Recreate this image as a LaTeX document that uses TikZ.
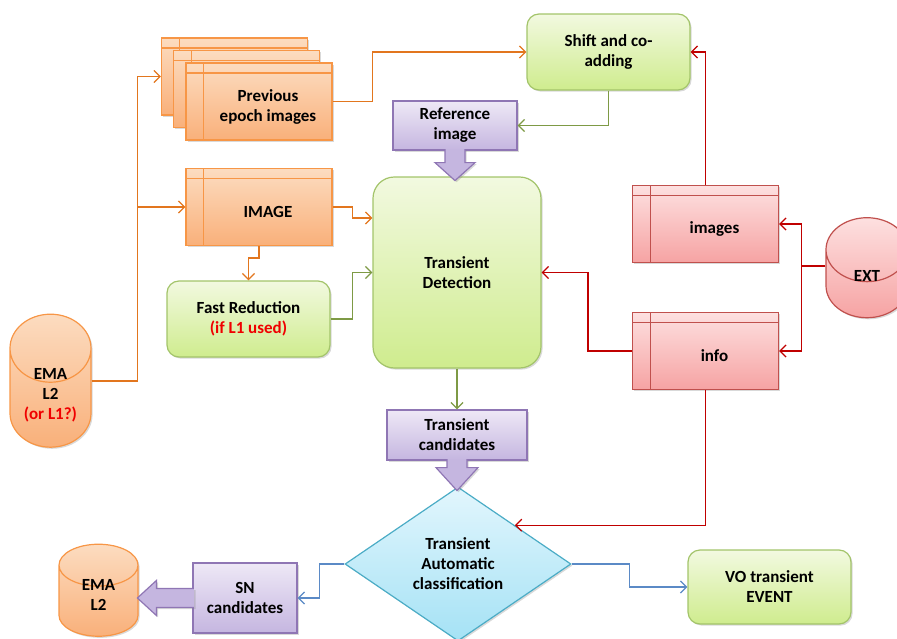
\documentclass[tikz,border=0pt]{standalone}
\usepackage{fontspec}
\setmainfont{Carlito}
\usetikzlibrary{shapes.geometric,shadows,calc,arrows.meta}

\definecolor{ortop}{HTML}{FCDCC0}
\definecolor{orbot}{HTML}{F9B07A}
\definecolor{orline}{HTML}{F79646}
\definecolor{orarrow}{HTML}{E2761E}
\definecolor{grtop}{HTML}{F2F9E0}
\definecolor{grbot}{HTML}{CFEC8E}
\definecolor{grline}{HTML}{A3C46A}
\definecolor{grarrow}{HTML}{7E9A45}
\definecolor{putop}{HTML}{EEE8F6}
\definecolor{pubot}{HTML}{C5B6E0}
\definecolor{puline}{HTML}{8F76B4}
\definecolor{rdtop}{HTML}{FDE0E0}
\definecolor{rdbot}{HTML}{F6A3A3}
\definecolor{rdline}{HTML}{C0504D}
\definecolor{rdarrow}{HTML}{C00000}
\definecolor{bltop}{HTML}{E2F6FD}
\definecolor{blbot}{HTML}{A5E2F5}
\definecolor{blline}{HTML}{4BACC6}
\definecolor{blarrow}{HTML}{5B8AC6}
\definecolor{redtxt}{HTML}{F00000}

\tikzset{
  lbl/.style={font=\bfseries\fontsize{12.75}{15}\selectfont, align=center, inner sep=0pt},
  shade/.style={drop shadow={opacity=0.3,shadow xshift=1.2pt,shadow yshift=-1.2pt}},
  box/.style={draw=#1line, line width=0.9pt, top color=#1top, bottom color=#1bot, shade},
  store/.style={box=#1, minimum width=109.5pt, minimum height=57.75pt,
    path picture={
      \draw[#1line,line width=0.8pt] ($(path picture bounding box.north west)!0.123!(path picture bounding box.north east)$) -- ($(path picture bounding box.south west)!0.123!(path picture bounding box.south east)$);
      \draw[#1line,line width=0.8pt] ($(path picture bounding box.north west)!0.13!(path picture bounding box.south west)$) -- ($(path picture bounding box.north east)!0.13!(path picture bounding box.south east)$);
    }},
  rbox/.style={box=gr, rounded corners=9pt, minimum width=122.25pt, minimum height=57pt},
  db/.style={box=#1, cylinder, shape border rotate=90, inner sep=0pt},
  link/.style={draw=#1arrow, line width=1pt, -{Straight Barb[length=4.5pt,width=9pt]}},
}

\begin{document}
\begin{tikzpicture}[x=0.75pt,y=0.75pt,yscale=-1,xscale=1]
\useasboundingbox (0,0) rectangle (897,639);

% Boxes
\node[store=or] (prev3) at (234.5,76.5) {};
\node[store=or] (prev2) at (246.5,89) {};
\node[store=or] (prev1) at (259,101.5) {};
\node[lbl] (prev1-t) at ([shift={(9,5.5)}]prev1.center) {Previous\\epoch images};

\node[rbox, lbl] (shift) at (608.5,52) {Shift and co-\\adding};
\node[box=pu, lbl, minimum width=93pt, minimum height=36.75pt] (ref) at (455,125.5) {Reference\\image};

\node[store=or] (img) at (259,207) {};
\node[lbl] (img-t) at ([shift={(9,5)}]img.center) {IMAGE};
\node[rbox, lbl] (fast) at (248.5,319) {Fast Reduction\\\textcolor{redtxt}{(if L1 used)}};

\node[box=gr, lbl, rounded corners=16pt, minimum width=126pt, minimum height=143.25pt] (td) at (457,272.5) {Transient\\Detection};

\node[store=rd] (images) at (705.5,224) {};
\node[lbl] (images-t) at ([shift={(9,5)}]images.center) {images};
\node[store=rd] (info) at (705.5,351) {};
\node[lbl] (info-t) at ([shift={(9,5)}]info.center) {info};

% Data stores
\node[db=rd, aspect=0.78, minimum height=75pt] (ext) at (867,284) {\rule{61.5pt}{0pt}};
\node[lbl] (ext-t) at ([shift={(0,-8)}]ext.center) {EXT};
\node[db=or, aspect=0.84, minimum height=99.75pt] (ema) at (50.5,398) {\rule{60.75pt}{0pt}};
\node[lbl] (ema-t) at ([shift={(0,-3)}]ema.center) {EMA\\L2\\\textcolor{redtxt}{(or L1?)}};

\node[box=pu, lbl, minimum width=105pt, minimum height=37.5pt] (cand) at (457,435) {Transient\\candidates};
\node[box=bl, lbl, diamond, aspect=1.47, minimum width=169.5pt, minimum height=115.5pt] (dia) at (458,564) {Transient\\Automatic\\classification};
\node[box=pu, lbl, minimum width=78pt, minimum height=52.5pt] (sn) at (245,598) {SN\\candidates};
\node[db=or, aspect=0.53, minimum height=69pt] (ema2) at (98.5,601) {\rule{59.25pt}{0pt}};
\node[lbl] (ema2-t) at ([shift={(0,-6)}]ema2.center) {EMA\\L2};
\node[rbox, lbl, minimum height=55.5pt] (vo) at (769.5,587) {VO transient\\EVENT};

% Block arrows
\draw[puline, line width=0.9pt, fill=pubot, shade] ($(ref.south)+(-10,-1.5)$) -- ++(0,13.5) -- ++(-10,0) -- ++(20,18) -- ++(20,-18) -- ++(-10,0) -- ++(0,-13.5);
\draw[puline, line width=0.9pt, fill=pubot, shade] ($(cand.south)+(-10,-1.5)$) -- ++(0,8.5) -- ++(-11,0) -- ++(21,23) -- ++(21,-23) -- ++(-11,0) -- ++(0,-8.5);
\draw[puline, line width=0.9pt, fill=pubot, shade] ($(sn.west)+(1.5,-9.5)$) -- ++(-37.5,0) -- ++(0,-8) -- ++(-19,17.5) -- ++(19,17.5) -- ++(0,-8) -- ++(37.5,0);

% Connectors
\draw[link=or] ([shift={(0,-17)}]ema.east) -- ++(46,0) |- (prev3.west);
\draw[link=or] ([shift={(0,-17)}]ema.east) -- ++(46,0) |- (img.west);
\draw[link=or] (prev1.east) -- ++(40,0) |- (shift.west);
\draw[link=gr] (shift.south) |- (ref.east);
\draw[link=or] (img.east) -- ++(20,0) -- ++(0,11) coordinate (a1) -- (a1 -| td.west);
\draw[link=or] (img.south) -- ++(0,12) -| (fast.north);
\draw[link=gr] (fast.east) -- ++(22,0) |- (td.west);
\draw[link=gr] (td.south) -- (cand.north);
\draw[link=rd] (images.north) |- (shift.east);
\draw[link=rd] ([shift={(0,-18)}]ext.west) -- ++(-24,0) |- (images.east);
\draw[link=rd] ([shift={(0,-18)}]ext.west) -- ++(-24,0) |- (info.east);
\draw[link=rd] (info.west) -- ++(-44,0) |- (td.east);
\draw[link=rd] (info.south) |- (dia.north east);
\draw[link=bl] (dia.west) -- ++(-25,0) |- (sn.east);
\draw[link=bl] (dia.east) -- ++(58,0) |- (vo.west);
\end{tikzpicture}
\end{document}
